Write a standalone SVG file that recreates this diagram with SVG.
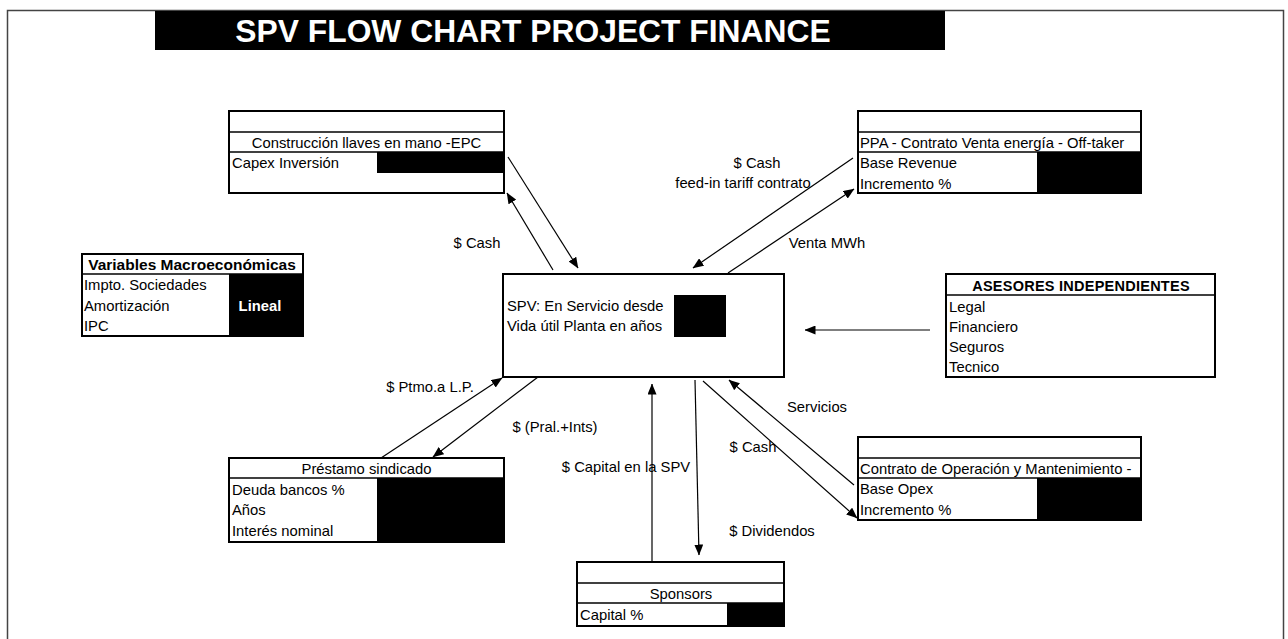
<svg xmlns="http://www.w3.org/2000/svg" width="1288" height="639" viewBox="0 0 1288 639">
<defs>
<marker id="ah" markerWidth="11" markerHeight="9" refX="10.5" refY="4.5" orient="auto" markerUnits="userSpaceOnUse">
<path d="M0,0 L11,4.5 L0,9 z" fill="#000"/>
</marker>
<style>
text{font-family:"Liberation Sans",Arial,sans-serif;font-size:14.8px;fill:#000}
.b{font-weight:bold}
.c{text-anchor:middle}
.box{fill:#fff;stroke:#000;stroke-width:2}
.ln{stroke:#000;stroke-width:1.5;fill:none}
.blk{fill:#000}
.conn line{stroke:#000;stroke-width:1.2}
.arr{marker-end:url(#ah)}
</style>
</defs>
<rect x="0" y="0" width="1288" height="639" fill="#fff"/>
<rect x="7.5" y="10.5" width="1276" height="640" fill="none" stroke="#444" stroke-width="1.5"/>

<g id="title">
<rect x="155" y="11" width="790" height="39" fill="#000"/>
<text x="533" y="42" class="b c" style="font-size:31.8px;fill:#fff">SPV FLOW CHART PROJECT FINANCE</text>
</g>

<g id="epc">
<rect class="box" x="229" y="111" width="275" height="82"/>
<line class="ln" x1="229" y1="132" x2="504" y2="132"/>
<line class="ln" x1="229" y1="152" x2="504" y2="152"/>
<rect class="blk" x="377" y="152" width="127" height="21"/>
<text x="366.5" y="148" class="c">Construcción llaves en mano -EPC</text>
<text x="232" y="168">Capex Inversión</text>
</g>

<g id="ppa">
<rect class="box" x="858" y="111" width="283" height="82"/>
<line class="ln" x1="858" y1="132" x2="1141" y2="132"/>
<line class="ln" x1="858" y1="152" x2="1141" y2="152"/>
<rect class="blk" x="1037" y="152" width="104" height="41"/>
<text x="860" y="148">PPA - Contrato Venta energía - Off-taker</text>
<text x="860" y="168">Base Revenue</text>
<text x="860" y="189">Incremento %</text>
</g>

<g id="macro">
<rect class="box" x="82" y="254" width="221" height="82"/>
<line class="ln" x1="82" y1="274" x2="303" y2="274"/>
<rect class="blk" x="229" y="274" width="74" height="62"/>
<text x="192" y="270" class="b c" style="font-size:15.5px">Variables Macroeconómicas</text>
<text x="84" y="290">Impto. Sociedades</text>
<text x="84" y="311">Amortización</text>
<text x="84" y="331">IPC</text>
<text x="260" y="311" class="b c" style="fill:#fff">Lineal</text>
</g>

<g id="spv">
<rect class="box" x="503" y="274" width="281" height="103"/>
<rect class="blk" x="674" y="295" width="52" height="42"/>
<text x="507" y="311">SPV: En Servicio desde</text>
<text x="507" y="331">Vida útil Planta en años</text>
</g>

<g id="asesores">
<rect class="box" x="946" y="274" width="269" height="103"/>
<line class="ln" x1="946" y1="295" x2="1215" y2="295"/>
<text x="1081" y="291" class="b c" style="font-size:14.5px;letter-spacing:0.25px">ASESORES INDEPENDIENTES</text>
<text x="949" y="312">Legal</text>
<text x="949" y="332">Financiero</text>
<text x="949" y="352">Seguros</text>
<text x="949" y="372">Tecnico</text>
</g>

<g id="prestamo">
<rect class="box" x="229" y="458" width="275" height="84"/>
<line class="ln" x1="229" y1="478" x2="504" y2="478"/>
<rect class="blk" x="377" y="478" width="127" height="64"/>
<text x="366.5" y="474" class="c">Préstamo sindicado</text>
<text x="232" y="495">Deuda bancos %</text>
<text x="232" y="515">Años</text>
<text x="232" y="536">Interés nominal</text>
</g>

<g id="om">
<rect class="box" x="858" y="437" width="283" height="83"/>
<line class="ln" x1="858" y1="458" x2="1141" y2="458"/>
<line class="ln" x1="858" y1="478" x2="1141" y2="478"/>
<rect class="blk" x="1037" y="478" width="104" height="42"/>
<text x="860" y="474">Contrato de Operación y Mantenimiento -</text>
<text x="860" y="494">Base Opex</text>
<text x="860" y="515">Incremento %</text>
</g>

<g id="sponsors">
<rect class="box" x="577" y="562" width="207" height="64"/>
<line class="ln" x1="577" y1="583" x2="784" y2="583"/>
<line class="ln" x1="577" y1="603" x2="784" y2="603"/>
<rect class="blk" x="727" y="603" width="57" height="23"/>
<text x="681" y="599" class="c">Sponsors</text>
<text x="580" y="620">Capital %</text>
</g>

<g id="connectors" class="conn">
<line class="arr" x1="508" y1="157" x2="578" y2="268"/>
<line class="arr" x1="553" y1="270" x2="507" y2="193"/>
<line class="arr" x1="853" y1="158" x2="693" y2="268"/>
<line class="arr" x1="728" y1="273" x2="854" y2="189"/>
<line class="arr" x1="930" y1="330" x2="805" y2="330"/>
<line class="arr" x1="381" y1="458" x2="502" y2="378"/>
<line class="arr" x1="538" y1="377" x2="433" y2="457"/>
<line class="arr" x1="652" y1="562" x2="652" y2="384"/>
<line class="arr" x1="695" y1="380" x2="699" y2="555"/>
<line class="arr" x1="854" y1="485" x2="729" y2="380"/>
<line class="arr" x1="703" y1="381" x2="857" y2="518"/>
</g>

<g id="labels">
<text x="477" y="248" class="c">$ Cash</text>
<text x="757" y="168" class="c">$ Cash</text>
<text x="743" y="188" class="c">feed-in tariff contrato</text>
<text x="827" y="248" class="c">Venta MWh</text>
<text x="430" y="392" class="c">$ Ptmo.a L.P.</text>
<text x="555" y="432" class="c">$ (Pral.+Ints)</text>
<text x="626" y="472" class="c">$ Capital en la SPV</text>
<text x="817" y="412" class="c">Servicios</text>
<text x="753" y="452" class="c">$ Cash</text>
<text x="772" y="536" class="c">$ Dividendos</text>
</g>
</svg>
